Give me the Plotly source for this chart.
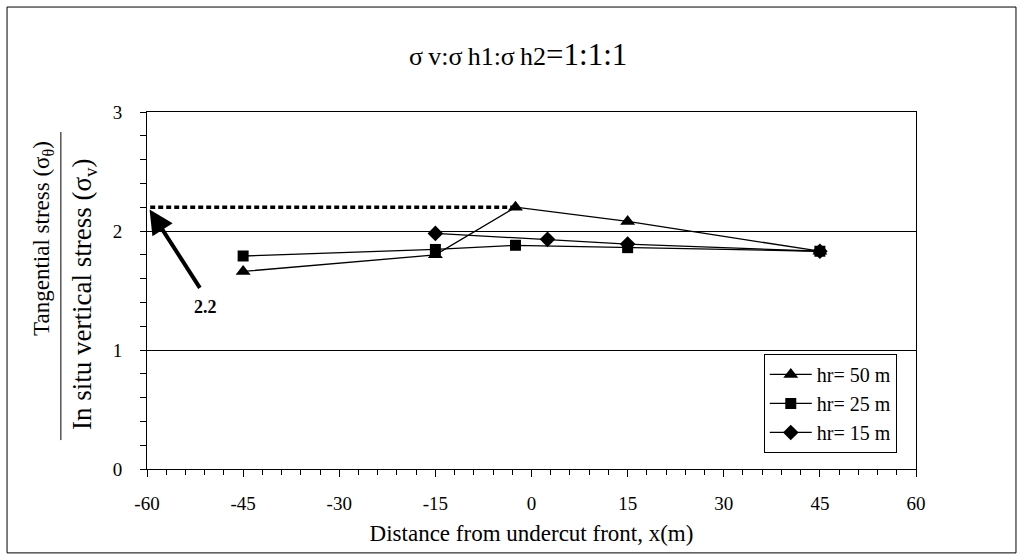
import plotly.graph_objects as go

# Distance from the undercut front (m) and normalised tangential stress
x_hr50 = [-45, -15, -2.5, 15, 45]
y_hr50 = [1.66, 1.80, 2.2, 2.08, 1.83]

x_hr25 = [-45, -15, -2.5, 15, 45]
y_hr25 = [1.79, 1.845, 1.88, 1.86, 1.83]

x_hr15 = [-15, 2.5, 15, 45]
y_hr15 = [1.98, 1.93, 1.89, 1.83]

series_names = ["hr= 50 m", "hr= 25 m", "hr= 15 m"]
series_symbols = ["triangle-up", "square", "diamond"]
series_sizes = [13, 11, 12]
peak_label = "2.2"
peak_value = 2.2

x_ticks = [-60, -45, -30, -15, 0, 15, 30, 45, 60]
y_ticks = [0, 1, 2, 3]

FONT = "Liberation Serif"

fig = go.Figure()

series = [(x_hr50, y_hr50), (x_hr25, y_hr25), (x_hr15, y_hr15)]
for (xs, ys), name, sym, size in zip(series, series_names, series_symbols, series_sizes):
    fig.add_trace(go.Scatter(
        x=xs, y=ys, name=name, mode="lines+markers",
        line=dict(color="black", width=1.3),
        marker=dict(symbol=sym, size=size, color="black"),
    ))

# dotted reference line at the peak value
fig.add_trace(go.Scatter(
    x=[-59.5, x_hr50[2]], y=[peak_value, peak_value], mode="lines",
    line=dict(color="black", width=3.5, dash="5px,3px"),
    showlegend=False, hoverinfo="skip",
))

fig.update_layout(
    width=1024, height=560,
    margin=dict(l=147, r=108, t=112, b=91),
    paper_bgcolor="white", plot_bgcolor="white",
    font=dict(family=FONT, color="black", size=19),
    title=dict(
        text="<span style='font-size:26px'>σ\u2009v:σ\u2009h1:σ\u2009h2</span>=1:1:1",
        x=0.506, xanchor="center", y=0.903, yanchor="middle",
        xref="container", yref="container",
        font=dict(family=FONT, size=31, color="black"),
    ),
    showlegend=True,
    legend=dict(
        x=0.975, xanchor="right", y=0.045, yanchor="bottom",
        bordercolor="black", borderwidth=1, bgcolor="white",
        font=dict(family=FONT, size=20, color="black"),
        tracegroupgap=0, itemwidth=42,
    ),
    xaxis=dict(
        range=[-60, 60], tickvals=x_ticks, ticktext=[str(v) for v in x_ticks],
        showgrid=False, zeroline=False, showline=True, linecolor="black",
        linewidth=1, mirror=True, ticks="outside", ticklen=7, tickcolor="black",
        minor=dict(dtick=3, ticks="outside", ticklen=5, tickcolor="black"),
        title=dict(text="Distance from undercut front, x(m)",
                   font=dict(family=FONT, size=23), standoff=12),
        tickfont=dict(family=FONT, size=19), ticklabelstandoff=10,
    ),
    yaxis=dict(
        range=[0, 3], tickvals=y_ticks, showgrid=True, gridcolor="black",
        gridwidth=1, zeroline=False, showline=True, linecolor="black",
        linewidth=1, mirror=True, ticks="outside", ticklen=6, tickcolor="black",
        minor=dict(dtick=0.2, ticks="outside", ticklen=6, tickcolor="black",
                   showgrid=False),
        tickfont=dict(family=FONT, size=19), ticklabelstandoff=14,
    ),
)

# y-axis label drawn as a fraction
fig.add_annotation(
    text="Tangential stress (σ<sub>θ</sub>)", textangle=-90,
    xref="paper", yref="paper", x=-0.135, y=0.645,
    xanchor="center", yanchor="middle", showarrow=False,
    font=dict(family=FONT, size=23),
)
fig.add_annotation(
    text="In situ vertical stress (σ<sub>v</sub>)", textangle=-90,
    xref="paper", yref="paper", x=-0.082, y=0.49,
    xanchor="center", yanchor="middle", showarrow=False,
    font=dict(family=FONT, size=27),
)
fig.add_shape(type="line", xref="paper", yref="paper",
              x0=-0.112, x1=-0.112, y0=0.081, y1=0.944,
              line=dict(color="black", width=1))

# arrow pointing at the peak value
fig.add_annotation(
    x=-59.6, y=2.18, ax=-51.6, ay=1.51, xref="x", yref="y",
    axref="x", ayref="y", text="", showarrow=True,
    arrowhead=2, arrowsize=1.2, arrowwidth=4, arrowcolor="black",
)
fig.add_annotation(
    x=-50.9, y=1.364, xref="x", yref="y", text="<b>" + peak_label + "</b>",
    showarrow=False, font=dict(family=FONT, size=18),
)

# outer chart frame
fig.add_shape(type="rect", xref="paper", yref="paper",
              x0=-0.182, x1=1.130, y0=-0.235, y1=1.294,
              line=dict(color="black", width=1), fillcolor="rgba(0,0,0,0)")

fig.write_html("out.html")
